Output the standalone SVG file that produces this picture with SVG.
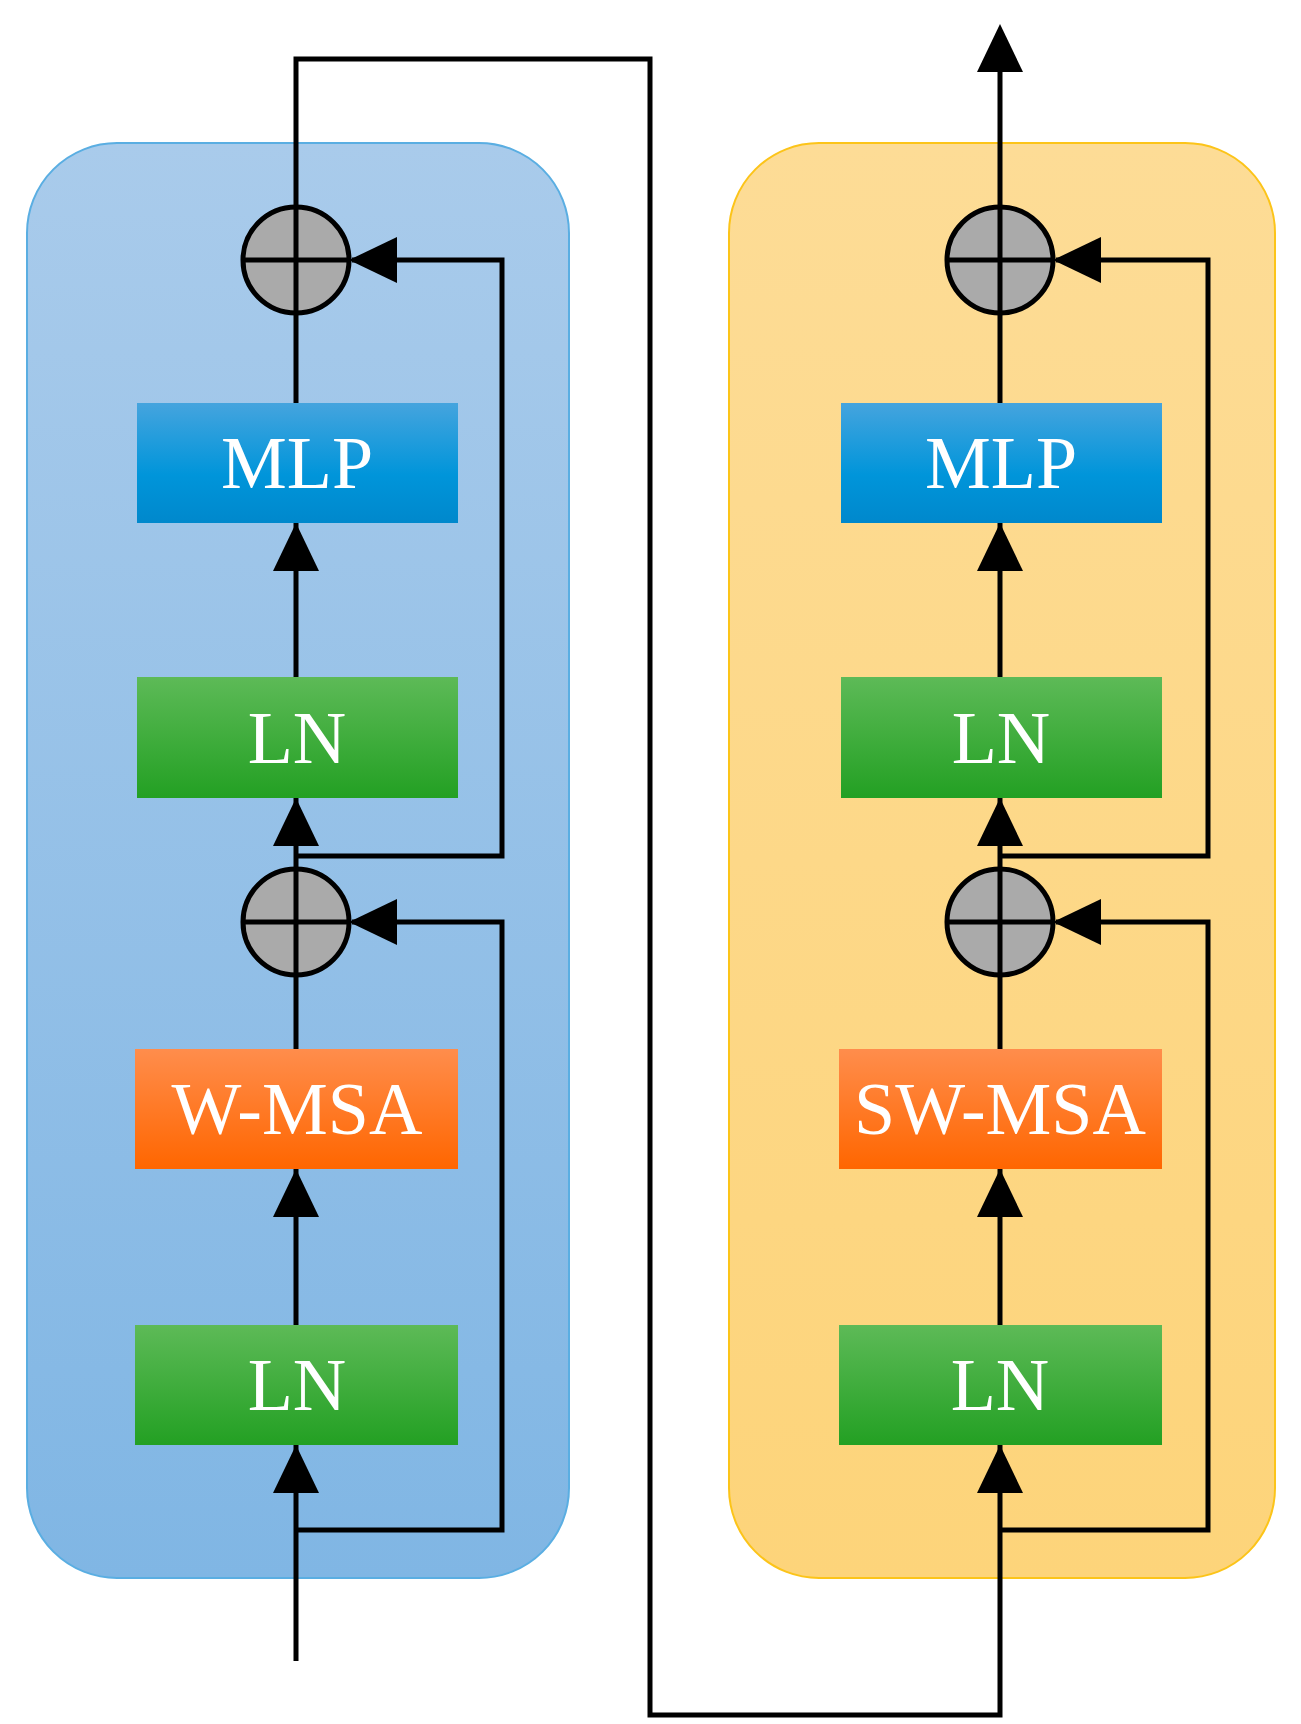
<svg xmlns="http://www.w3.org/2000/svg" width="1301" height="1724" viewBox="0 0 1301 1724">
<defs>
<linearGradient id="gB" x1="0" y1="0" x2="0" y2="1"><stop offset="0" stop-color="#a9cbeb"/><stop offset="1" stop-color="#80b6e4"/></linearGradient>
<linearGradient id="gO" x1="0" y1="0" x2="0" y2="1"><stop offset="0" stop-color="#fddc96"/><stop offset="1" stop-color="#fdd47a"/></linearGradient>
<linearGradient id="gM" x1="0" y1="0" x2="0" y2="1"><stop offset="0" stop-color="#45a4de"/><stop offset="0.6" stop-color="#0095da"/><stop offset="1" stop-color="#0088cc"/></linearGradient>
<linearGradient id="gL" x1="0" y1="0" x2="0" y2="1"><stop offset="0" stop-color="#5dba57"/><stop offset="1" stop-color="#23a023"/></linearGradient>
<linearGradient id="gW" x1="0" y1="0" x2="0" y2="1"><stop offset="0" stop-color="#ff8d4c"/><stop offset="1" stop-color="#ff6600"/></linearGradient>
<marker id="ah" markerWidth="10" markerHeight="10" refX="10" refY="5" orient="auto" markerUnits="userSpaceOnUse" viewBox="0 0 10 10"><path d="M0,0 L10,5 L0,10 z" fill="#000"/></marker>
</defs>
<style>
.t{font-family:"Liberation Serif","Times New Roman",serif;font-size:74px;fill:#fff;text-anchor:middle;dominant-baseline:central}
.ln{fill:none;stroke:#000;stroke-width:5}
.c{fill:#aaa;stroke:#000;stroke-width:5}
</style>
<rect x="27" y="143" width="542" height="1435" rx="90" fill="url(#gB)" stroke="#5aaee2" stroke-width="2"/>
<rect x="729" y="143" width="546" height="1435" rx="90" fill="url(#gO)" stroke="#fcc419" stroke-width="2"/>
<g id="connectors">
<path class="ln" d="M296,1661 V1445"/>
<path class="ln" d="M296,1530 H502 V922 H352"/>
<path class="ln" d="M296,1325 V1169"/>
<path class="ln" d="M296,1049 V975"/>
<path class="ln" d="M296,869 V798"/>
<path class="ln" d="M296,856 H502 V260 H352"/>
<path class="ln" d="M296,677 V523"/>
<path class="ln" d="M296,403 V59 H650 V1715 H1000 V1445"/>
<path class="ln" d="M1000,1530 H1208 V922 H1056"/>
<path class="ln" d="M1000,1325 V1169"/>
<path class="ln" d="M1000,1049 V975"/>
<path class="ln" d="M1000,869 V798"/>
<path class="ln" d="M1000,856 H1208 V260 H1056"/>
<path class="ln" d="M1000,677 V523"/>
<path class="ln" d="M1000,403 V60"/>
<g fill="#000">
<path d="M296,1445 L273,1493 L319,1493 z"/>
<path d="M296,1169 L273,1217 L319,1217 z"/>
<path d="M296,798 L273,846 L319,846 z"/>
<path d="M296,523 L273,571 L319,571 z"/>
<path d="M349,922 L397,899 L397,945 z"/>
<path d="M349,260 L397,237 L397,283 z"/>
<path d="M1000,1445 L977,1493 L1023,1493 z"/>
<path d="M1000,1169 L977,1217 L1023,1217 z"/>
<path d="M1000,798 L977,846 L1023,846 z"/>
<path d="M1000,523 L977,571 L1023,571 z"/>
<path d="M1053,922 L1101,899 L1101,945 z"/>
<path d="M1053,260 L1101,237 L1101,283 z"/>
<path d="M1000,24 L977,72 L1023,72 z"/>
</g>
</g>
<g id="addL1"><circle class="c" cx="296" cy="260" r="53"/><path class="ln" d="M243,260 H349 M296,207 V313"/></g>
<g id="addL2"><circle class="c" cx="296" cy="922" r="53"/><path class="ln" d="M243,922 H349 M296,869 V975"/></g>
<g id="addR1"><circle class="c" cx="1000" cy="260" r="53"/><path class="ln" d="M947,260 H1053 M1000,207 V313"/></g>
<g id="addR2"><circle class="c" cx="1000" cy="922" r="53"/><path class="ln" d="M947,922 H1053 M1000,869 V975"/></g>
<g id="mlpL"><rect x="137" y="403" width="321" height="120" fill="url(#gM)"/><text class="t" x="297" y="463">MLP</text></g>
<g id="ln2L"><rect x="137" y="677" width="321" height="121" fill="url(#gL)"/><text class="t" x="297" y="738">LN</text></g>
<g id="wmsa"><rect x="135" y="1049" width="323" height="120" fill="url(#gW)"/><text class="t" x="297" y="1109">W-MSA</text></g>
<g id="ln1L"><rect x="135" y="1325" width="323" height="120" fill="url(#gL)"/><text class="t" x="297" y="1385">LN</text></g>
<g id="mlpR"><rect x="841" y="403" width="321" height="120" fill="url(#gM)"/><text class="t" x="1001" y="463">MLP</text></g>
<g id="ln2R"><rect x="841" y="677" width="321" height="121" fill="url(#gL)"/><text class="t" x="1001" y="738">LN</text></g>
<g id="swmsa"><rect x="839" y="1049" width="323" height="120" fill="url(#gW)"/><text class="t" x="1000" y="1109">SW-MSA</text></g>
<g id="ln1R"><rect x="839" y="1325" width="323" height="120" fill="url(#gL)"/><text class="t" x="1000" y="1385">LN</text></g>
</svg>
